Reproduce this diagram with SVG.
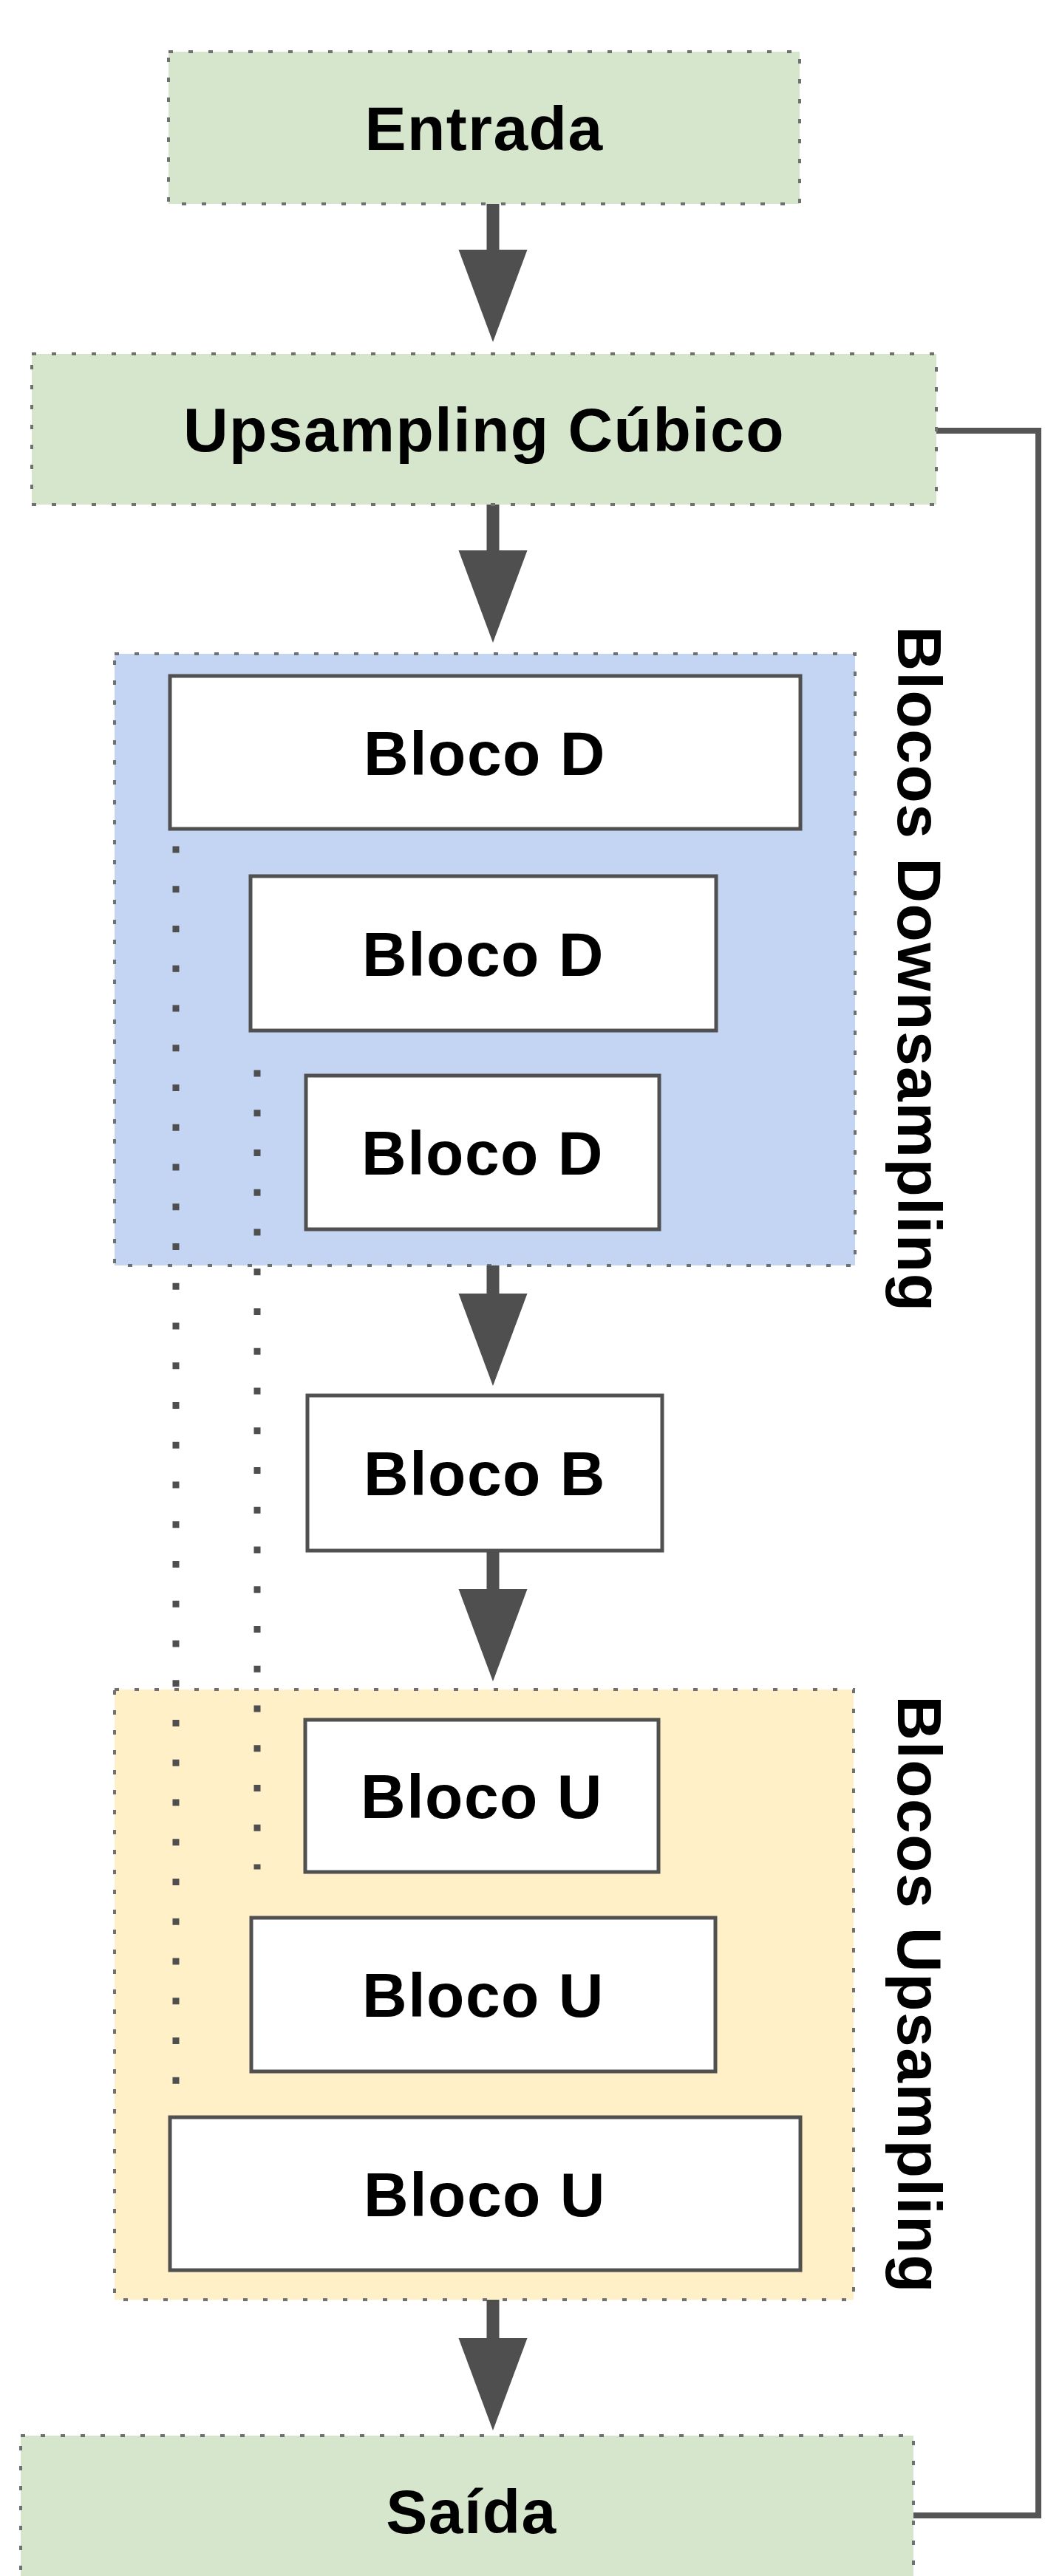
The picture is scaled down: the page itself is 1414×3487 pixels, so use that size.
<svg xmlns="http://www.w3.org/2000/svg" width="1414" height="3487" viewBox="0 0 1414 3487">
  <style>
    .lbl { font-family: "Liberation Sans", Arial, Helvetica, sans-serif; font-weight: bold; font-size: 84px; letter-spacing: 1.5px; fill: #000; text-anchor: middle; }
    .green { fill: #d5e6cd; stroke: #707070; stroke-width: 4; stroke-dasharray: 6 21; }
    .grpD { fill: #c3d5f3; stroke: #707070; stroke-width: 4; stroke-dasharray: 6 21; }
    .grpU { fill: #fff0c8; stroke: #707070; stroke-width: 4; stroke-dasharray: 6 21; }
    .blk { fill: #ffffff; stroke: #505050; stroke-width: 5; }
    .flow { stroke: #4f4f4f; stroke-width: 17; fill: none; marker-end: url(#head); }
    .skip { stroke: #555555; stroke-width: 8; fill: none; }
    .dots { stroke: #4f4f4f; stroke-width: 9; stroke-dasharray: 9 44.75; fill: none; }
  </style>
  <defs>
    <marker id="head" markerUnits="userSpaceOnUse" markerWidth="126" markerHeight="94" viewBox="0 0 126 94" refX="20" refY="46.5" orient="auto">
      <path d="M0,0 L125,46.5 L0,93 Z" fill="#4f4f4f"/>
    </marker>
  </defs>

  <g id="group-downsampling">
    <rect class="grpD" x="155" y="885" width="1002" height="828"/>
    <text class="lbl" transform="translate(1215,1312) rotate(90)">Blocos Downsampling</text>
  </g>
  <g id="group-upsampling">
    <rect class="grpU" x="155" y="2287" width="1000" height="826"/>
    <text class="lbl" transform="translate(1215,2700) rotate(90)">Blocos Upsampling</text>
  </g>

  <g id="connectors">
    <line class="flow" x1="667" y1="276" x2="667" y2="358"/>
    <line class="flow" x1="667" y1="683" x2="667" y2="765"/>
    <line class="flow" x1="667" y1="1713" x2="667" y2="1771"/>
    <line class="flow" x1="667" y1="2099" x2="667" y2="2171"/>
    <line class="flow" x1="667" y1="3113" x2="667" y2="3185"/>
    <polyline class="skip" points="1267,583 1405,583 1405,3405 1236,3405"/>
    <line class="dots" x1="238" y1="1145.5" x2="238" y2="2823.5"/>
    <line class="dots" x1="348" y1="1448.5" x2="348" y2="2530.5"/>
  </g>

  <g id="entrada">
    <rect class="green" x="228" y="70" width="854" height="206"/>
    <text class="lbl" x="655" y="203">Entrada</text>
  </g>
  <g id="upsampling-cubico">
    <rect class="green" x="43" y="479" width="1224" height="204"/>
    <text class="lbl" x="655" y="611">Upsampling Cúbico</text>
  </g>
  <g id="bloco-d1">
    <rect class="blk" x="230" y="915" width="853" height="207"/>
    <text class="lbl" x="656" y="1049">Bloco D</text>
  </g>
  <g id="bloco-d2">
    <rect class="blk" x="339" y="1186" width="630" height="209"/>
    <text class="lbl" x="654" y="1321">Bloco D</text>
  </g>
  <g id="bloco-d3">
    <rect class="blk" x="414" y="1456" width="478" height="208"/>
    <text class="lbl" x="653" y="1590">Bloco D</text>
  </g>
  <g id="bloco-b">
    <rect class="blk" x="416" y="1889" width="480" height="210"/>
    <text class="lbl" x="656" y="2024">Bloco B</text>
  </g>
  <g id="bloco-u1">
    <rect class="blk" x="413" y="2328" width="478" height="206"/>
    <text class="lbl" x="652" y="2461">Bloco U</text>
  </g>
  <g id="bloco-u2">
    <rect class="blk" x="340" y="2596" width="628" height="208"/>
    <text class="lbl" x="654" y="2730">Bloco U</text>
  </g>
  <g id="bloco-u3">
    <rect class="blk" x="230" y="2866" width="853" height="207"/>
    <text class="lbl" x="656" y="3000">Bloco U</text>
  </g>
  <g id="saida">
    <rect class="green" x="28" y="3297" width="1208" height="206"/>
    <text class="lbl" x="638" y="3429">Saída</text>
  </g>
</svg>
